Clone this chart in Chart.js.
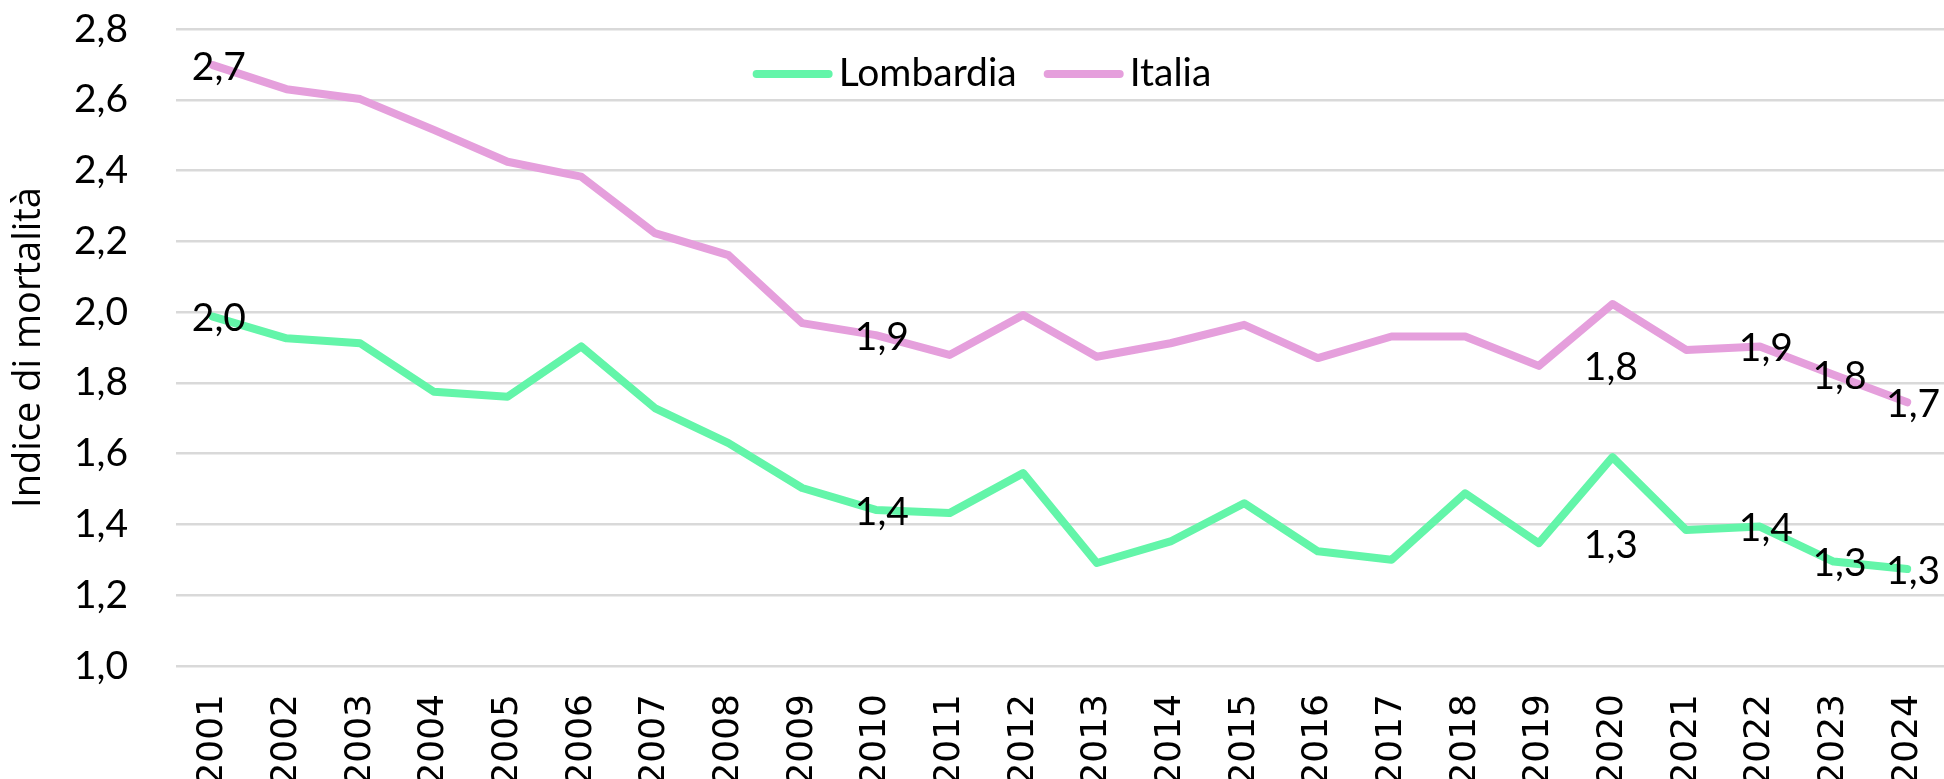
<!DOCTYPE html>
<html>
<head>
<meta charset="utf-8">
<script src="https://cdn.jsdelivr.net/npm/chart.js@4.4.1/dist/chart.umd.min.js"></script>
<style>
  html, body { margin: 0; padding: 0; background: #ffffff; }
  #wrap { width: 1944px; height: 779px; position: relative; }
</style>
</head>
<body>
<div id="wrap"><canvas id="c"></canvas></div>
<script>
const years = ['2001','2002','2003','2004','2005','2006','2007','2008','2009','2010','2011','2012',
               '2013','2014','2015','2016','2017','2018','2019','2020','2021','2022','2023','2024'];
const lombardia = [1.987,1.926,1.912,1.775,1.761,1.903,1.729,1.630,1.503,1.441,1.432,1.545,
                   1.291,1.352,1.460,1.324,1.300,1.488,1.347,1.590,1.384,1.394,1.295,1.274];
const italia = [2.698,2.630,2.602,2.515,2.425,2.383,2.223,2.161,1.969,1.935,1.879,1.992,
                1.874,1.912,1.964,1.870,1.931,1.931,1.848,2.023,1.893,1.903,1.823,1.745];
const yTicks = [1.0,1.2,1.4,1.6,1.8,2.0,2.2,2.4,2.6,2.8];
const labelledYears = ['2001','2010','2019','2022','2023','2024'];
const seriesNames = ['Lombardia','Italia'];
const seriesColors = ['#63f5a9','#e59fdc'];
const yTitle = 'Indice di mortalità';

const fmt = v => Number(v).toFixed(1).replace('.', ',');
const LABEL_FONT = '39px Lato';
const TARGET_TOP = 29;

const dataLabels = {
  id: 'dataLabels',
  afterDatasetsDraw(chart) {
    const ctx = chart.ctx;
    ctx.save();
    ctx.font = LABEL_FONT;
    ctx.fillStyle = '#000';
    ctx.textAlign = 'center';
    ctx.textBaseline = 'middle';
    chart.data.datasets.forEach((ds, di) => {
      const meta = chart.getDatasetMeta(di);
      labelledYears.forEach(yr => {
        const i = years.indexOf(yr);
        const el = meta.data[i];
        let x = el.x + 6, y = el.y + 2;
        if (yr === '2019') { x = el.x + 72; }
        ctx.fillText(fmt(ds.data[i]), x, y);
      });
    });
    ctx.restore();
  }
};

const customLegend = {
  id: 'customLegend',
  afterDraw(chart) {
    const ctx = chart.ctx;
    ctx.save();
    ctx.font = LABEL_FONT;
    ctx.textBaseline = 'middle';
    ctx.textAlign = 'left';
    const items = chart.data.datasets.map(d => ({ text: d.label, color: d.borderColor }));
    const sample = 80, gap = 6, itemGap = 27;
    const widths = items.map(it => sample + gap + ctx.measureText(it.text).width);
    const total = widths.reduce((a, b) => a + b, 0) + itemGap * (items.length - 1);
    let x = 982 - total / 2;
    const y = 74;
    items.forEach((it, k) => {
      ctx.strokeStyle = it.color;
      ctx.lineWidth = 8;
      ctx.lineCap = 'round';
      ctx.beginPath();
      ctx.moveTo(x + 4, y);
      ctx.lineTo(x + sample - 4, y);
      ctx.stroke();
      ctx.fillStyle = '#000';
      ctx.fillText(it.text, x + sample + gap, y - 1);
      x += widths[k] + itemGap;
    });
    ctx.restore();
  }
};

function draw() {
  const chart = new Chart(document.getElementById('c'), {
    type: 'line',
    data: {
      labels: years,
      datasets: [
        { label: seriesNames[0], data: lombardia, borderColor: seriesColors[0], backgroundColor: seriesColors[0],
          borderWidth: 8, pointRadius: 0, tension: 0, borderJoinStyle: 'round', borderCapStyle: 'round', fill: false },
        { label: seriesNames[1], data: italia, borderColor: seriesColors[1], backgroundColor: seriesColors[1],
          borderWidth: 8, pointRadius: 0, tension: 0, borderJoinStyle: 'round', borderCapStyle: 'round', fill: false }
      ]
    },
    options: {
      responsive: true,
      maintainAspectRatio: false,
      animation: false,
      layout: { padding: { top: TARGET_TOP, right: 0, bottom: 0, left: 0 } },
      plugins: { legend: { display: false }, tooltip: { enabled: false }, title: { display: false } },
      scales: {
        x: {
          offset: true,
          grid: { display: false, drawTicks: false },
          border: { display: false },
          ticks: { minRotation: 90, maxRotation: 90, autoSkip: false, padding: 28, color: '#000',
                   font: { family: 'DejaVu Sans', size: 36 } },
          afterFit(s) { s.height = 113; s.paddingLeft = 0; s.paddingRight = 0; }
        },
        y: {
          min: yTicks[0],
          max: yTicks[yTicks.length - 1],
          border: { display: false },
          grid: { color: '#d9d9d9', lineWidth: 2.5, drawTicks: false },
          afterBuildTicks(s) { s.ticks = yTicks.map(v => ({ value: v })); },
          ticks: { padding: 48, color: '#000', font: { family: 'Lato', size: 39 }, callback: v => fmt(v) },
          title: { display: true, text: yTitle, color: '#000', font: { family: 'Open Sans', size: 38 },
                   padding: { top: 6, bottom: 0 } },
          afterFit(s) { s.width = 176; s.paddingTop = 0; s.paddingBottom = 0; }
        }
      }
    },
    plugins: [dataLabels, customLegend]
  });
  const diff = chart.chartArea.top - TARGET_TOP;
  if (Math.abs(diff) > 0.5) {
    chart.options.layout.padding.top = TARGET_TOP - diff;
    chart.update();
  }
}

const fontLoads = ['39px Lato', '36px "DejaVu Sans"', '38px "Open Sans"'].map(f => document.fonts.load(f).catch(() => null));
Promise.all(fontLoads).then(draw, draw);
</script>
</body>
</html>
